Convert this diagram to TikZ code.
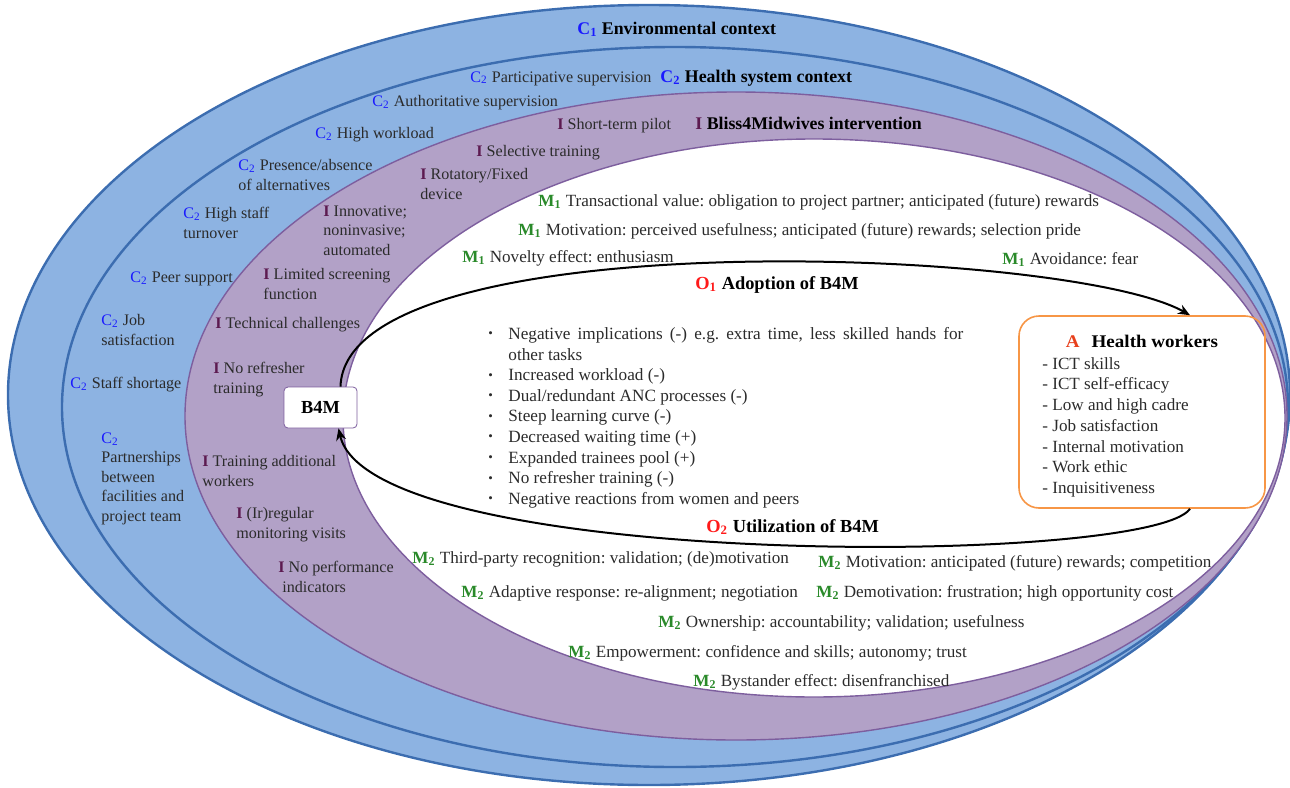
\documentclass[tikz,border=0pt]{standalone}
\usepackage{fontspec}
\setmainfont{Liberation Serif}
\newfontfamily\hwtitlefont[FakeStretch=1.07]{Liberation Serif}
\usetikzlibrary{positioning,arrows.meta}

\definecolor{ctxblue}{HTML}{8DB3E2}
\definecolor{ctxline}{HTML}{3C6DB0}
\definecolor{intpurple}{HTML}{B2A1C7}
\definecolor{intline}{HTML}{7D5E9E}
\definecolor{cblue}{HTML}{1A1AFF}
\definecolor{ipurple}{HTML}{5C1A50}
\definecolor{mgreen}{HTML}{2A8A2A}
\definecolor{ored}{HTML}{FF1A1A}
\definecolor{aorange}{HTML}{E8401C}
\definecolor{hwline}{HTML}{F79646}
\definecolor{txt}{HTML}{2B2B2B}

\newcommand{\ctag}[1]{\textcolor{cblue}{C\textsubscript{#1}}}
\newcommand{\itag}{\textcolor{ipurple}{\textbf{I}}}
\newcommand{\mtag}[1]{\textcolor{mgreen}{\textbf{M\textsubscript{#1}}}}
\newcommand{\otag}[1]{\textcolor{ored}{O\textsubscript{#1}}}
\newcommand{\blt}{\makebox[10pt][l]{\raisebox{0.2ex}{\scalebox{0.75}{\textbullet}}}}

\tikzset{
  lbl/.style={anchor=base west,inner sep=0pt,text=txt,font=\frenchspacing\fontsize{8.05}{9.8}\selectfont},
  mlbl/.style={lbl,anchor=north west,align=left},
  mech/.style={lbl,font=\frenchspacing\fontsize{8.55}{10}\selectfont},
  ttl/.style={lbl,text=black,font=\fontsize{8.9}{10}\selectfont\bfseries},
  outc/.style={ttl,font=\fontsize{9.2}{10}\selectfont\bfseries},
  ctxring/.style={draw=ctxline,fill=ctxblue,line width=1.2pt},
  intring/.style={draw=intline,fill=intpurple,line width=0.7pt},
  flow/.style={line width=1pt,-{Stealth[length=6pt,width=5pt]}}
}

\begin{document}
\begin{tikzpicture}[x=0.5pt,y=-0.5pt]
  \useasboundingbox (0,0) rectangle (1290,787);

  % nested rings
  \draw[ctxring] (649,395) ellipse [x radius=320.5pt,y radius=195pt];
  \draw[ctxring] (675,407) ellipse [x radius=306.5pt,y radius=180pt];
  \draw[intring] (736,416) ellipse [x radius=275.5pt,y radius=162pt];
  \draw[intline,fill=white,line width=0.7pt] (814,418) ellipse [x radius=235.5pt,y radius=139.5pt];

  % C1 / C2 context
  \node[ttl] (envctx) at (577,34) {\ctag{1}\mdseries\ \bfseries Environmental context};
  \node[lbl] (c-part) at (470,82) {\ctag{2} Participative supervision};
  \node[ttl] (hsctx) at (660,82) {\ctag{2} Health system context};
  \node[lbl] (c-auth) at (372,106) {\ctag{2} Authoritative supervision};
  \node[lbl] (c-work) at (315,138) {\ctag{2} High workload};
  \node[mlbl] (c-alt) at (238,159) {\ctag{2} Presence/absence\\of alternatives};
  \node[mlbl] (c-turn) at (183,207) {\ctag{2} High staff\\turnover};
  \node[lbl] (c-peer) at (130,282) {\ctag{2} Peer support};
  \node[mlbl] (c-job) at (101,314) {\ctag{2} Job\\satisfaction};
  \node[lbl] (c-short) at (70,388) {\ctag{2} Staff shortage};
  \node[mlbl] (c-partn) at (101,432) {\ctag{2}\\Partnerships\\between\\facilities and\\project team};

  % I intervention
  \node[lbl] (i-pilot) at (557,129) {\itag\ Short-term pilot};
  \node[ttl] (intv) at (695,129) {\itag\ Bliss4Midwives intervention};
  \node[lbl] (i-sel) at (476,156) {\itag\ Selective training};
  \node[mlbl] (i-rot) at (420,168) {\itag\ Rotatory/Fixed\\device};
  \node[mlbl] (i-inno) at (323,205) {\itag\ Innovative;\\noninvasive;\\automated};
  \node[mlbl] (i-lim) at (263,268) {\itag\ Limited screening\\function};
  \node[lbl] (i-tech) at (215,328) {\itag\ Technical challenges};
  \node[mlbl] (i-refr) at (213,362) {\itag\ No refresher\\training};
  \node[mlbl] (i-add) at (202,455) {\itag\ Training additional\\workers};
  \node[mlbl] (i-mon) at (236,507) {\itag\ (Ir)regular\\monitoring visits};
  \node[mlbl] (i-perf) at (278,561) {\itag\ No performance\\\hspace*{2pt}indicators};

  % M1 mechanisms
  \node[mech] (m-trans) at (538,206) {\mtag{1} Transactional value: obligation to project partner; anticipated (future) rewards};
  \node[mech] (m-motiv) at (518,235) {\mtag{1} Motivation: perceived usefulness; anticipated (future) rewards; selection pride};
  \node[mech] (m-nov) at (462,262) {\mtag{1} Novelty effect: enthusiasm};
  \node[mech] (m-avoid) at (1002,264) {\mtag{1} Avoidance: fear};
  \node[outc] (adopt) at (695,289) {\otag{1} Adoption of B4M};

  % effects list
  \node[mlbl,font=\frenchspacing\fontsize{8.6}{10.3}\selectfont] (effects) at (488,327) {%
    \blt\makebox[227.5pt][s]{Negative implications (-) e.g. extra time, less skilled hands for}\\
    \hspace*{10pt}other tasks\\
    \blt Increased workload (-)\\
    \blt Dual/redundant ANC processes (-)\\
    \blt Steep learning curve (-)\\
    \blt Decreased waiting time (+)\\
    \blt Expanded trainees pool (+)\\
    \blt No refresher training (-)\\
    \blt Negative reactions from women and peers};

  % M2 mechanisms
  \node[outc] (util) at (706,532) {\otag{2} Utilization of B4M};
  \node[mech] (m-third) at (412,563) {\mtag{2} Third-party recognition: validation; (de)motivation};
  \node[mech] (m-comp) at (818,567) {\mtag{2} Motivation: anticipated (future) rewards; competition};
  \node[mech] (m-adapt) at (461,597) {\mtag{2} Adaptive response: re-alignment; negotiation};
  \node[mech] (m-demot) at (816,597) {\mtag{2} Demotivation: frustration; high opportunity cost};
  \node[mech] (m-own) at (658,627) {\mtag{2} Ownership: accountability; validation; usefulness};
  \node[mech] (m-emp) at (568,657) {\mtag{2} Empowerment: confidence and skills; autonomy; trust};
  \node[mech] (m-bys) at (693,686) {\mtag{2} Bystander effect: disenfranchised};

  % health workers
  \node[draw=hwline,line width=0.8pt,rounded corners=10pt,minimum width=123pt,minimum height=96pt,inner sep=0pt] (hw) at (1142,412) {};
  \node[ttl,anchor=base,font=\hwtitlefont\fontsize{8.9}{10}\selectfont\bfseries] (hwtitle) at (1142,347) {\textcolor{aorange}{A}\hspace{6pt}Health workers};
  \node[mlbl,font=\fontsize{8.55}{10.35}\selectfont] (hwlist) at (1042,357) {- ICT skills\\- ICT self-efficacy\\- Low and high cadre\\- Job satisfaction\\- Internal motivation\\- Work ethic\\- Inquisitiveness};

  % B4M
  \node[draw=intline,fill=white,rounded corners=2pt,minimum width=36.5pt,minimum height=20.5pt,inner sep=0pt,font=\fontsize{9.2}{10}\selectfont\bfseries] (b4m) at (320.5,407.5) {B4M};

  \draw[flow] ([xshift=10pt]b4m.north) .. controls +(5,-167) and +(-120,-68) .. ([xshift=24pt]hw.north);
  \draw[flow] ([xshift=24pt]hw.south) .. controls +(-40,58) and +(32,142) .. ([xshift=9pt]b4m.south);
\end{tikzpicture}
\end{document}
